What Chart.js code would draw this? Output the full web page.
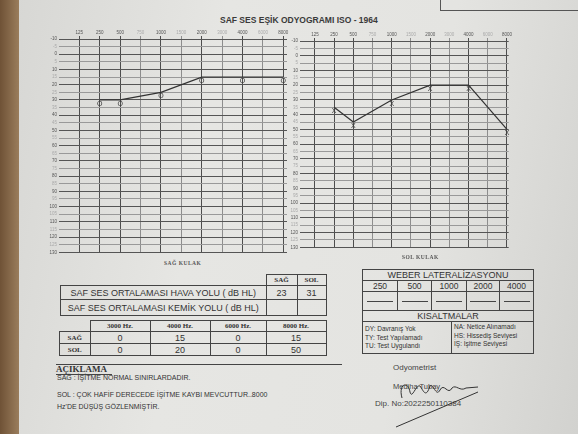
<!DOCTYPE html>
<html>
<head>
<meta charset="utf-8">
<script src="https://cdn.jsdelivr.net/npm/chart.js@4.4.1/dist/chart.umd.min.js"></script>
<style>
    html, body { margin: 0; padding: 0; }
    body {
        width: 578px; height: 434px; overflow: hidden; position: relative;
        background: linear-gradient(100deg, #d6d6d3 0%, #e6e6e3 35%, #e4e4e1 70%, #d2d2cf 100%);
        font-family: "Liberation Sans", Arial, sans-serif; color: #333;
    }
    .wood { position: absolute; left: 0; top: 0; width: 19px; height: 434px;
        background: linear-gradient(90deg, #6f5236, #9a7d5c); }
    .abs { position: absolute; white-space: nowrap; }
    canvas { position: absolute; }
    table { position: absolute; border-collapse: collapse; }
    td { border: 1px solid #444; padding: 0; text-align: center; color: #333; }
    td.nob { border: none; }
    .serif { font-family: "Liberation Serif", "DejaVu Serif", serif; font-weight: bold; }
    .dash { display: inline-block; width: 26px; border-top: 1px solid #444; vertical-align: middle; }
</style>
</head>
<body>
<div class="wood"></div>
<div class="abs" style="left:440px;top:0;width:1px;height:11px;background:#555"></div>
<div class="abs" style="left:440px;top:10px;width:138px;height:1px;background:#555"></div>

<div class="abs" style="left:220px;top:15px;font-size:8.5px;font-weight:bold;color:#3a3a3a">SAF SES EŞİK ODYOGRAMI ISO - 1964</div>

<canvas id="sag" width="250" height="232" style="left:40px;top:25px"></canvas>
<canvas id="sol" width="228" height="225" style="left:285px;top:27px"></canvas>

<div class="abs serif" style="left:164px;top:260px;font-size:5.5px;letter-spacing:0.5px;color:#555">SAĞ KULAK</div>
<div class="abs serif" style="left:402px;top:254px;font-size:5.5px;letter-spacing:0.5px;color:#555">SOL KULAK</div>

<!-- ortalama tablosu -->
<table style="left:60px;top:274px">
    <tr style="height:11px">
        <td class="nob" style="width:205px"></td>
        <td class="serif" style="width:30px;font-size:7px">SAĞ</td>
        <td class="serif" style="width:28px;font-size:7px">SOL</td>
    </tr>
    <tr style="height:14px;font-size:9px">
        <td>SAF SES ORTALAMASI HAVA YOLU ( dB HL)</td><td>23</td><td>31</td>
    </tr>
    <tr style="height:16px;font-size:9px">
        <td>SAF SES ORTALAMASI KEMİK YOLU ( dB HL)</td><td></td><td></td>
    </tr>
</table>

<!-- frekans tablosu -->
<table style="left:59px;top:320px">
    <tr style="height:11px">
        <td class="nob" style="width:30px"></td>
        <td class="serif" style="width:59px;font-size:7px">3000 Hz.</td>
        <td class="serif" style="width:59px;font-size:7px">4000 Hz.</td>
        <td class="serif" style="width:55px;font-size:7px">6000 Hz.</td>
        <td class="serif" style="width:59px;font-size:7px">8000 Hz.</td>
    </tr>
    <tr style="height:12px;font-size:9px">
        <td class="serif" style="font-size:7px">SAĞ</td><td>0</td><td>15</td><td>0</td><td>15</td>
    </tr>
    <tr style="height:12px;font-size:9px">
        <td class="serif" style="font-size:7px">SOL</td><td>0</td><td>20</td><td>0</td><td>50</td>
    </tr>
</table>

<!-- weber -->
<table style="left:362px;top:269px">
    <tr style="height:11px"><td colspan="5" style="font-size:9px">WEBER LATERALİZASYONU</td></tr>
    <tr style="height:11px;font-size:8.5px">
        <td style="width:34px">250</td><td style="width:33px">500</td><td style="width:34px">1000</td><td style="width:32px">2000</td><td style="width:33px">4000</td>
    </tr>
    <tr style="height:11px">
        <td><span class="dash"></span></td><td><span class="dash"></span></td><td><span class="dash"></span></td><td><span class="dash"></span></td><td><span class="dash"></span></td>
    </tr>
    <tr style="height:11px"><td colspan="5" style="font-size:9px">KISALTMALAR</td></tr>
    <tr style="height:32px">
        <td colspan="5" style="text-align:left;position:relative">
            <div class="abs" style="left:2px;top:3px;font-size:6.5px;line-height:8.6px">DY: Davranış Yok<br>TY: Test Yapılamadı<br>TU: Test Uygulandı</div>
            <div class="abs" style="left:88px;top:0;width:1px;height:32px;background:#444"></div>
            <div class="abs" style="left:91px;top:1px;font-size:6.5px;line-height:8.6px">NA: Netice Alınamadı<br>HS: Hissediş Seviyesi<br>İŞ: İşitme Seviyesi</div>
        </td>
    </tr>
</table>

<!-- aciklama -->
<div class="abs" style="left:56px;top:364px;width:286px;height:1px;background:#444"></div>
<div class="abs serif" style="left:56px;top:364px;font-size:9px;color:#333">AÇIKLAMA</div>
<div class="abs" style="left:56px;top:374px;width:56px;height:1px;background:#444"></div>
<div class="abs" style="left:57px;top:374px;font-size:7px">SAĞ : İŞİTME NORMAL SINIRLARDADIR.</div>
<div class="abs" style="left:57px;top:391px;font-size:7px">SOL : ÇOK HAFİF DERECEDE İŞİTME KAYBI MEVCUTTUR..8000</div>
<div class="abs" style="left:57px;top:403px;font-size:7px">Hz'DE DÜŞÜŞ GÖZLENMİŞTİR.</div>

<div class="abs" style="left:393px;top:363px;font-size:8px;color:#444">Odyometrist</div>
<div class="abs" style="left:393px;top:382px;font-size:7.5px;color:#444">Mediha Tubay</div>
<div class="abs" style="left:375px;top:399px;font-size:8px;color:#444">Dip. No:2022250110384</div>
<svg class="abs" style="left:0;top:0" width="578" height="434">
    <path d="M402 398 C398 384 408 380 410 392 C412 400 416 384 420 386 C424 392 426 398 430 386 C433 382 436 398 440 390 C444 382 448 396 452 388 C456 384 460 392 466 388 L478 387 M396 427 L478 392"
          fill="none" stroke="#333" stroke-width="1"/>
</svg>

<script>
// ==================== DATOS ====================
const FRECUENCIAS = ['125', '250', '500', '750', '1000', '1500', '2000', '3000', '4000', '6000', '8000'];
const FRECUENCIAS_MENORES = ['750', '1500', '3000', '6000'];
const FRECUENCIAS_MEDIDAS = ['250', '500', '1000', '2000', '4000', '8000'];
const DB_TICKS = [-10, -5, 0, 5, 10, 15, 20, 25, 30, 35, 40, 45, 50, 55, 60, 65, 70, 75,
    80, 85, 90, 95, 100, 105, 110, 115, 120, 125, 130];
const SAG_HAVA = [30, 30, 25, 15, 15, 15];
const SOL_HAVA = [35, 45, 30, 20, 20, 50];

// dibuja la O / X un poco debajo de cada punto
const marcadorPlugin = {
    id: 'marcador',
    afterDatasetsDraw(chart) {
        const ctx = chart.ctx;
        chart.data.datasets.forEach((ds, i) => {
            const meta = chart.getDatasetMeta(i);
            ctx.save();
            ctx.font = '7px "Liberation Sans", sans-serif';
            ctx.fillStyle = '#3a3a3a';
            ctx.textAlign = 'center';
            ctx.textBaseline = 'middle';
            meta.data.forEach(p => ctx.fillText(ds.marcador, p.x, p.y + 4));
            ctx.restore();
        });
    },
};

function odyograma(id, valores, marcador, xMin, xMax, anchoY) {
    const puntos = FRECUENCIAS_MEDIDAS.map((f, i) => ({ x: FRECUENCIAS.indexOf(f), y: valores[i] }));
    return new Chart(document.getElementById(id), {
        type: 'line',
        data: {
            datasets: [{
                data: puntos,
                marcador,
                borderColor: '#333',
                borderWidth: 1.2,
                pointRadius: 0,
                tension: 0,
            }],
        },
        plugins: [marcadorPlugin],
        options: {
            responsive: false,
            animation: false,
            devicePixelRatio: 1,
            layout: { padding: { left: 0, right: 3, top: 0, bottom: 2 } },
            plugins: { legend: { display: false }, tooltip: { enabled: false } },
            scales: {
                x: {
                    type: 'linear',
                    position: 'top',
                    min: xMin,
                    max: xMax,
                    afterBuildTicks: s => { s.ticks = FRECUENCIAS.map((_, i) => ({ value: i })); },
                    afterFit: s => { s.height = 14; },
                    border: { display: false },
                    grid: {
                        color: c => FRECUENCIAS_MENORES.includes(FRECUENCIAS[c.tick.value]) ? '#8d8d8d' : '#4d4d4d',
                        tickLength: 3,
                    },
                    ticks: {
                        autoSkip: false,
                        maxRotation: 0,
                        padding: 1,
                        font: { size: 4.5 },
                        color: c => FRECUENCIAS_MENORES.includes(FRECUENCIAS[c.tick.value]) ? '#aaa' : '#555',
                        callback: v => FRECUENCIAS[v],
                    },
                },
                y: {
                    reverse: true,
                    min: -10,
                    max: 130,
                    afterBuildTicks: s => { s.ticks = DB_TICKS.map(v => ({ value: v })); },
                    afterFit: s => { s.width = anchoY; },
                    border: { display: false },
                    grid: {
                        color: c => (c.tick.value % 10 === 0 ? '#555' : '#999'),
                        tickLength: 3,
                    },
                    ticks: {
                        autoSkip: false,
                        padding: 2,
                        font: { size: 4.5 },
                        color: c => (c.tick.value % 10 === 0 ? '#555' : '#aaa'),
                    },
                },
            },
        },
    });
}

odyograma('sag', SAG_HAVA, 'O', -0.85, 10.18, 22);
odyograma('sol', SOL_HAVA, 'X', -0.62, 10.09, 18);
</script>
</body>
</html>
